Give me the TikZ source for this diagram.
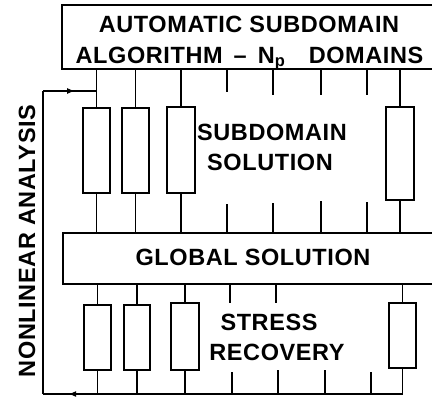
\documentclass[tikz,border=0pt]{standalone}
\usepackage{fontspec}
\setmainfont{Liberation Sans}
\newfontfamily\spacedsans[LetterSpace=2.5]{Liberation Sans}
\usetikzlibrary{arrows.meta,decorations.markings}

\tikzset{
  wire/.style={line width=1.4pt},
  stage/.style={draw, line width=1.4pt, rectangle, inner sep=0pt},
  cell/.style={draw, line width=1.4pt, rectangle, inner sep=0pt, fill=white},
  caption/.style={font=\spacedsans\bfseries\fontsize{23.5}{26}\selectfont, inner sep=0pt, anchor=base},
  flowmark/.style={decoration={markings,
      mark=at position #1 with {\arrow{Latex[length=8pt,width=6pt]}}},
      postaction={decorate}},
}

\begin{document}
\begin{tikzpicture}[x=1pt,y=-1pt]
\useasboundingbox (0,0) rectangle (432,397);
\clip (0,0) rectangle (432,397);

% main stages (they run off the right-hand side)
\node[stage, minimum width=378pt, minimum height=64pt] (alg) at (251,37) {};
\node[stage, minimum width=377pt, minimum height=51pt] (glob) at (251.5,258.5) {};

% stage texts
\node[caption] (algA) at (249,32) {AUTOMATIC SUBDOMAIN};
\node[caption] (algB) at (249.5,63) {ALGORITHM \,\textendash\, N\textsubscript{p}\quad DOMAINS};
\node[caption] (globT) at (253,265) {GLOBAL SOLUTION};
\node[caption] (subA) at (272,140) {SUBDOMAIN};
\node[caption] (subB) at (270,170) {SOLUTION};
\node[caption] (strA) at (269,330) {STRESS};
\node[caption] (strB) at (277,360) {RECOVERY};
\node[caption, rotate=90] (nla) at (35,241) {NONLINEAR ANALYSIS};

% subdomain solution cells
\node[cell, minimum width=27pt, minimum height=85pt] (u1) at (96.5,150.5) {};
\node[cell, minimum width=27pt, minimum height=85pt] (u2) at (135.5,150.5) {};
\node[cell, minimum width=28pt, minimum height=86pt] (u3) at (181,150) {};
\node[cell, minimum width=28pt, minimum height=93pt] (u4) at (400,153.5) {};

% stress recovery cells
\node[cell, minimum width=27pt, minimum height=65pt] (l1) at (97.5,337.5) {};
\node[cell, minimum width=26pt, minimum height=65pt] (l2) at (137,337.5) {};
\node[cell, minimum width=28pt, minimum height=67pt] (l3) at (185,336.5) {};
\node[cell, minimum width=27pt, minimum height=65pt] (l4) at (402.5,335.5) {};

% return path of the iteration loop
\coordinate (tl) at (43,91);
\coordinate (bl) at (43,394);

% connections between the stages and the cells
\foreach \c in {u1,u2,u3,u4}{
  \draw[wire] (\c.north |- alg.south) -- (\c.north);
  \draw[wire] (\c.south) -- (\c.south |- glob.north);
}
\foreach \c in {l1,l2,l3,l4}{
  \draw[wire] (\c.north |- glob.south) -- (\c.north);
  \draw[wire] (\c.south) -- (\c.south |- bl);
}

% the remaining subdomains, indicated by short stubs
\foreach \x/\a/\b in {227/92/204, 273/95/203, 321/95/201, 367/95/202}{
  \draw[wire] (alg.south -| \x,0) -- (\x,\a);
  \draw[wire] (\x,\b) -- (glob.north -| \x,0);
}
\foreach \x in {230,276}{
  \draw[wire] (glob.south -| \x,0) -- (\x,303);
}
\foreach \x/\a in {232/372, 278/370, 325/370, 371/372}{
  \draw[wire] (\x,\a) -- (bl -| \x,0);
}

% iteration loop
\draw[wire, flowmark=0.93] (l4.south |- bl) -- (bl);
\draw[wire] (bl) -- (tl);
\draw[wire, flowmark=0.6] (tl) -- (tl -| u1.north);
\end{tikzpicture}
\end{document}
